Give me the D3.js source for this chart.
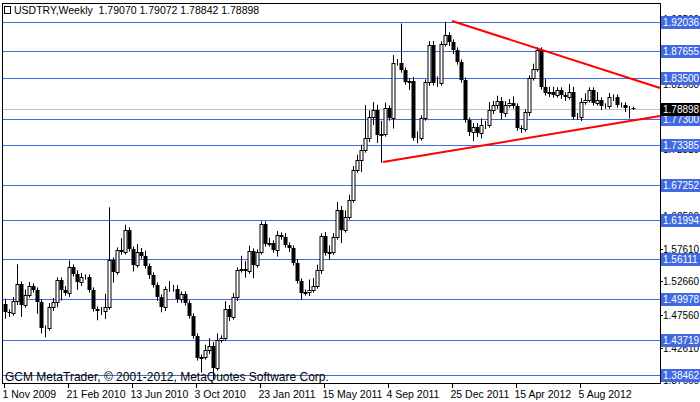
<!DOCTYPE html>
<html><head><meta charset="utf-8">
<script src="https://cdn.jsdelivr.net/npm/d3@7"></script>
<style>body{margin:0;background:#fff}svg{display:block}</style>
</head><body>
<svg id="c" width="700" height="402"></svg>
<script>
const title = "USDTRY,Weekly  1.79070 1.79072 1.78842 1.78898";
const copyright = "GCM MetaTrader, © 2001-2012, MetaQuotes Software Corp.";
const firstOpen = 1.4924;
const closes = [1.4802,1.4787,1.4969,1.5227,1.4909,1.5060,1.5197,1.5136,1.4954,1.4559,
1.4559,1.4878,1.4954,1.5288,1.5136,1.5091,1.5485,1.5379,1.5258,1.5334,
1.5334,1.5136,1.4848,1.4817,1.4817,1.4878,1.5591,1.5409,1.5743,1.5713,
1.6047,1.5758,1.5516,1.5713,1.5652,1.5500,1.5364,1.5212,1.5030,1.4878,
1.5151,1.5151,1.5151,1.5000,1.5075,1.4939,1.4742,1.4438,1.4104,1.4119,
1.4225,1.4286,1.3952,1.4377,1.4408,1.4848,1.4726,1.5030,1.5440,1.5455,
1.5424,1.5728,1.5516,1.5713,1.6138,1.5834,1.5849,1.5743,1.5971,1.5940,
1.5819,1.5773,1.5546,1.5273,1.5091,1.5106,1.5136,1.5197,1.5440,1.5956,
1.5698,1.5713,1.5940,1.6350,1.6047,1.6244,1.6502,1.6957,1.7109,1.7261,
1.7443,1.7762,1.7868,1.7488,1.7504,1.7898,1.7746,1.8581,1.8581,1.8475,
1.8293,1.8308,1.7443,1.7443,1.7746,1.8293,1.8854,1.8278,1.8278,1.8870,
1.9006,1.8900,1.8779,1.8596,1.8323,1.7716,1.7534,1.7610,1.7519,1.7640,
1.7640,1.7868,1.7944,1.8005,1.7822,1.7944,1.7974,1.7929,1.7595,1.7580,
1.7838,1.8354,1.8490,1.8779,1.8217,1.8126,1.8141,1.8096,1.8172,1.8096,
1.8065,1.8141,1.7762,1.7762,1.7989,1.8020,1.8172,1.7974,1.8020,1.7929,
1.7929,1.8065,1.8065,1.7944,1.7944,1.7898,1.7898,1.78898];
const upperWick = [0.008,0.004,0.006,0.030,0.004,0.008,0.006,0.004,0.004,0.004,
0.004,0.006,0.006,0.004,0.004,0.006,0.010,0.004,0.006,0.006,
0.004,0.004,0.004,0.004,0.006,0.020,0.080,0.004,0.004,0.018,
0.008,0.004,0.004,0.012,0.006,0.008,0.004,0.004,0.004,0.004,
0.004,0.012,0.006,0.006,0.004,0.004,0.004,0.004,0.004,0.004,
0.008,0.012,0.006,0.010,0.004,0.012,0.006,0.006,0.004,0.020,
0.012,0.008,0.004,0.004,0.004,0.004,0.008,0.004,0.006,0.004,
0.006,0.004,0.004,0.006,0.004,0.004,0.016,0.012,0.008,0.004,
0.006,0.010,0.006,0.012,0.006,0.010,0.008,0.006,0.008,0.008,
0.050,0.010,0.012,0.008,0.020,0.008,0.004,0.012,0.006,0.060,
0.004,0.004,0.006,0.010,0.004,0.004,0.006,0.006,0.010,0.004,
0.020,0.004,0.004,0.004,0.004,0.004,0.004,0.006,0.006,0.010,
0.006,0.012,0.006,0.008,0.006,0.006,0.006,0.010,0.004,0.004,
0.004,0.004,0.008,0.004,0.004,0.012,0.008,0.008,0.004,0.004,
0.004,0.012,0.008,0.006,0.006,0.010,0.004,0.004,0.012,0.004,
0.004,0.006,0.004,0.004,0.004,0.004,0.003,0.002];
const lowerWick = [0.010,0.006,0.004,0.006,0.018,0.004,0.004,0.004,0.018,0.008,
0.014,0.004,0.006,0.008,0.016,0.004,0.006,0.004,0.012,0.006,
0.004,0.004,0.004,0.014,0.006,0.012,0.004,0.016,0.004,0.004,
0.004,0.004,0.010,0.004,0.004,0.004,0.006,0.004,0.006,0.008,
0.006,0.004,0.004,0.006,0.006,0.004,0.004,0.004,0.004,0.022,
0.004,0.006,0.018,0.004,0.004,0.004,0.006,0.004,0.006,0.004,
0.010,0.004,0.020,0.004,0.004,0.004,0.004,0.004,0.010,0.004,
0.004,0.006,0.004,0.004,0.010,0.004,0.006,0.004,0.004,0.006,
0.004,0.010,0.004,0.004,0.020,0.004,0.004,0.004,0.004,0.018,
0.004,0.006,0.012,0.012,0.042,0.004,0.004,0.016,0.004,0.004,
0.004,0.012,0.004,0.008,0.004,0.004,0.006,0.004,0.006,0.004,
0.004,0.006,0.006,0.004,0.004,0.004,0.006,0.014,0.006,0.008,
0.006,0.004,0.006,0.006,0.010,0.006,0.004,0.004,0.004,0.006,
0.004,0.006,0.004,0.004,0.004,0.004,0.006,0.004,0.004,0.006,
0.006,0.004,0.004,0.004,0.006,0.004,0.004,0.004,0.004,0.006,
0.004,0.004,0.006,0.004,0.004,0.006,0.016,0.002];
const levels = [1.92036,1.87655,1.83500,1.77300,1.73385,1.67252,1.61994,1.56111,1.49978,1.43719,1.38462];
const axisTicks = [1.92560,1.82660,1.72810,1.62560,1.57610,1.52660,1.47560,1.42610,1.37660];
const currentPrice = 1.78898;
const dateLabels = ["1 Nov 2009","21 Feb 2010","13 Jun 2010","3 Oct 2010","23 Jan 2011","15 May 2011","4 Sep 2011","25 Dec 2011","15 Apr 2012","5 Aug 2012"];
const dateIdx = [0,16,32,48,64,80,96,112,128,144];
const upperTrend = [[111.75,1.9219],[163.75,1.8202]];
const lowerTrend = [[94.5,1.7079],[163.75,1.7777]];

const data = closes.map((c,i)=>{const o = i===0?firstOpen:closes[i-1];
  return {i,o,c,h:Math.max(o,c)+upperWick[i],l:Math.min(o,c)-lowerWick[i]};});

const svg = d3.select("#c");
const L=2,R=660,T=3,B=383;
const x = d3.scaleLinear().domain([-1.25,163.75]).range([0,R]);
const y = d3.scaleLinear().domain([1.38462,1.92036]).range([375,22]);
const font = "'Liberation Sans', Arial, sans-serif";
const fs = 10.5, fsA = 10;
const px = v=>Math.round(v)+0.5;

const g = svg.append("g");
g.selectAll("text.t").data(axisTicks).join("text").attr("x",R+3).attr("y",d=>y(d)+4)
 .attr("font-family",font).attr("font-size",fsA).attr("fill","#000").text(d=>d.toFixed(5));
g.selectAll("line.t").data(axisTicks).join("line").attr("x1",R).attr("x2",R+3)
 .attr("y1",d=>px(y(d))).attr("y2",d=>px(y(d))).attr("stroke","#000");
g.append("line").attr("x1",L).attr("x2",R).attr("y1",px(y(currentPrice))).attr("y2",px(y(currentPrice))).attr("stroke","#c0c0c0");
g.selectAll("line.lv").data(levels).join("line").attr("x1",L).attr("x2",R)
 .attr("y1",d=>px(y(d))).attr("y2",d=>px(y(d))).attr("stroke","#4169e1");
const cg = g.append("g");
data.forEach(d=>{
  const cx = Math.round(x(d.i))+0.5;
  cg.append("line").attr("x1",cx).attr("x2",cx).attr("y1",y(d.h)).attr("y2",y(d.l)).attr("stroke","#000");
  const top = Math.round(y(Math.max(d.o,d.c))), bot = Math.round(y(Math.min(d.o,d.c)));
  const h = Math.max(bot-top,0);
  if (d.c>=d.o) cg.append("rect").attr("x",cx-1.5).attr("y",top+0.5).attr("width",3).attr("height",h).attr("fill","#fff").attr("stroke","#000");
  else cg.append("rect").attr("x",cx-2).attr("y",top).attr("width",4).attr("height",Math.max(h,1)).attr("fill","#000");
});
[upperTrend,lowerTrend].forEach(t=>{
  g.append("line").attr("x1",x(t[0][0])).attr("y1",y(t[0][1])).attr("x2",x(t[1][0])).attr("y2",y(t[1][1]))
   .attr("stroke","#ff0000").attr("stroke-width",2);
});
levels.forEach(v=>{
  const yy = Math.round(y(v));
  g.append("rect").attr("x",R+1).attr("y",yy-6).attr("width",39).attr("height",13).attr("fill","#4169e1");
  g.append("text").attr("x",R+3).attr("y",yy+4).attr("font-family",font).attr("font-size",fsA).attr("fill","#fff").text(v.toFixed(5));
});
{ const yy = Math.round(y(currentPrice));
  g.append("rect").attr("x",R+1).attr("y",yy-6).attr("width",39).attr("height",13).attr("fill","#000");
  g.append("text").attr("x",R+3).attr("y",yy+4).attr("font-family",font).attr("font-size",fsA).attr("fill","#fff").text(currentPrice.toFixed(5));
}
g.append("rect").attr("x",L+0.5).attr("y",T+0.5).attr("width",R-L).attr("height",B-T).attr("fill","none").attr("stroke","#000");
dateIdx.forEach((di,k)=>{
  const xx = Math.round(x(di))-0.5;
  g.append("line").attr("x1",xx).attr("x2",xx).attr("y1",B).attr("y2",B+5).attr("stroke","#000");
  g.append("text").attr("x",xx-2).attr("y",B+15).attr("font-family",font).attr("font-size",fs).attr("fill","#000").text(dateLabels[k]);
});
g.append("rect").attr("x",4.5).attr("y",6.5).attr("width",6).attr("height",7).attr("fill","none").attr("stroke","#000");
g.append("text").attr("x",14).attr("y",14).attr("font-family",font).attr("font-size",fs).attr("fill","#000").attr("xml:space","preserve").text(title);
g.append("text").attr("x",5).attr("y",381).attr("font-family",font).attr("font-size",12).attr("fill","#000").text(copyright);
</script>
</body></html>
